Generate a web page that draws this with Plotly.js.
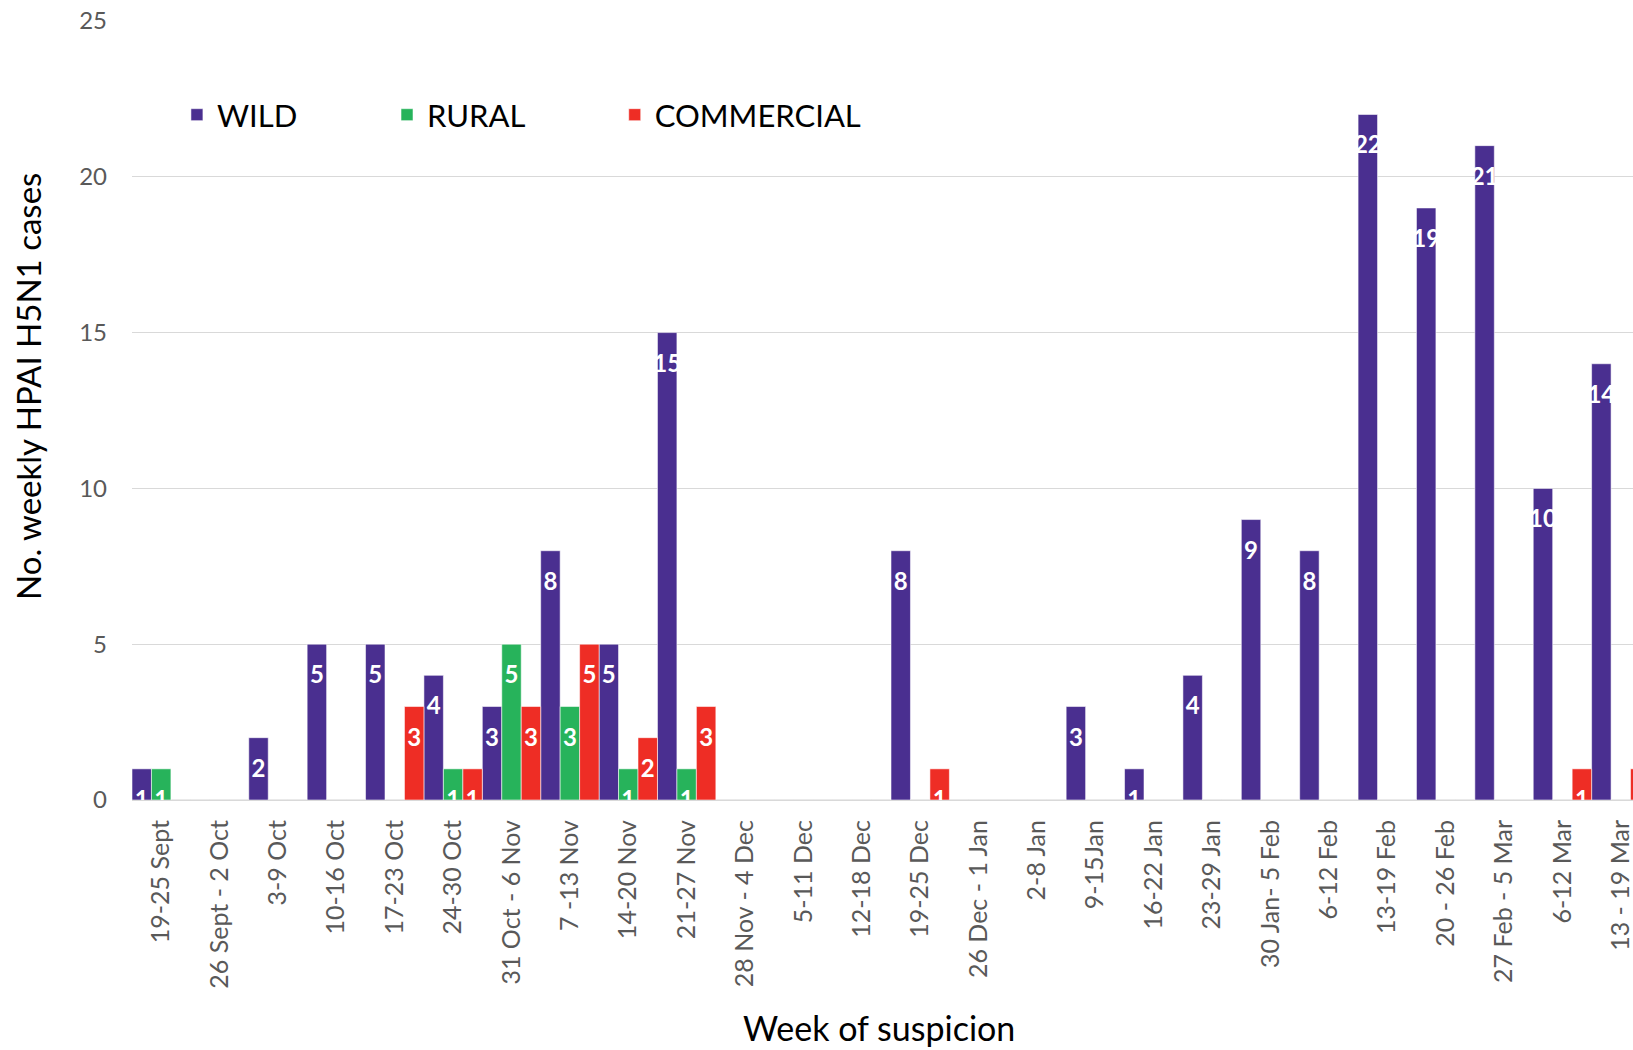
<!DOCTYPE html>
<html><head><meta charset="utf-8">
<script src="https://cdn.plot.ly/plotly-3.0.1.min.js"></script>
<style>html,body{margin:0;padding:0;overflow:hidden;background:#fff}</style>
</head><body>
<div id="chart" style="width:1660px;height:1050px"></div>
<script>
const weeks = ['19-25 Sept','26 Sept - 2 Oct','3-9 Oct','10-16 Oct','17-23 Oct','24-30 Oct',
  '31 Oct - 6 Nov','7 -13 Nov','14-20 Nov','21-27 Nov','28 Nov - 4 Dec','5-11 Dec','12-18 Dec',
  '19-25 Dec','26 Dec - 1 Jan','2-8 Jan','9-15Jan','16-22 Jan','23-29 Jan','30 Jan- 5 Feb',
  '6-12 Feb','13-19 Feb','20 - 26 Feb','27 Feb - 5 Mar','6-12 Mar','13 - 19 Mar'];
const wild       = [1,0,2,5,5,4,3,8,5,15,0,0,0,8,0,0,3,1,4,9,8,22,19,21,10,14];
const rural      = [1,0,0,0,0,1,5,3,1,1,0,0,0,0,0,0,0,0,0,0,0,0,0,0,0,0];
const commercial = [0,0,0,0,3,1,3,5,2,3,0,0,0,1,0,0,0,0,0,0,0,0,0,0,1,1];
const seriesNames = ['WILD','RURAL','COMMERCIAL'];
const seriesColors = ['#4a2f90','#27b35b','#ee2d25'];
const seriesValues = [wild, rural, commercial];
const legendIds = ['legend','legend2','legend3'];
const legendX = [0.0296, 0.168, 0.318];
const xTitle = 'Week of suspicion';
const yTitle = 'No. weekly HPAI H5N1 cases';

const traces = [];
seriesValues.forEach((vals, i) => {
  traces.push({
    type: 'bar', name: seriesNames[i], x: weeks, y: vals, legend: legendIds[i],
    marker: {color: seriesColors[i], line: {color: 'rgba(255,255,255,0.55)', width: 1}},
    hoverinfo: 'skip'
  });
});
seriesValues.forEach((vals, i) => {
  traces.push({
    type: 'scatter', mode: 'markers+text', x: weeks, y: vals, orientation: 'v',
    text: vals.map(v => v > 0 ? String(v) : ''),
    textposition: 'bottom center',
    textfont: {family: 'Lato', size: 24, color: '#ffffff', weight: 'bold'},
    marker: {size: 32, opacity: 0},
    cliponaxis: true, showlegend: false, hoverinfo: 'skip'
  });
});

const layout = {
  width: 1660, height: 1050,
  margin: {l: 132, r: 10, t: 21, b: 250},
  paper_bgcolor: '#ffffff', plot_bgcolor: '#ffffff',
  barmode: 'group', bargap: 0, bargroupgap: 0,
  scattermode: 'group', scattergap: 0,
  font: {family: 'Lato', color: '#595959'},
  showlegend: true,
  xaxis: {
    type: 'category', range: [-0.5, 25.5], tickangle: -90,
    tickfont: {family: 'Lato', size: 25, color: '#595959'},
    ticks: '', ticklabelstandoff: 14, showgrid: false,
    showline: false, zeroline: false, automargin: false
  },
  yaxis: {
    range: [0, 25], dtick: 5, tick0: 0,
    tickfont: {family: 'Lato', size: 24, color: '#595959'},
    ticks: '', ticklabelstandoff: 24,
    showgrid: true, gridcolor: '#d9d9d9', gridwidth: 1.3,
    zeroline: true, zerolinecolor: '#d9d9d9', zerolinewidth: 1.6,
    showline: false, automargin: false
  },
  annotations: [
    {text: yTitle, xref: 'paper', yref: 'paper', x: (28 - 132) / 1518, y: (800 - 387) / 779,
     xanchor: 'center', yanchor: 'middle', textangle: -90, showarrow: false,
     font: {family: 'Lato', size: 33, color: '#000000'}},
    {text: xTitle, xref: 'paper', yref: 'paper', x: (879 - 132) / 1518, y: (800 - 1027) / 779,
     xanchor: 'center', yanchor: 'middle', showarrow: false,
     font: {family: 'Lato', size: 34, color: '#000000'}}
  ]
};
legendIds.forEach((id, i) => {
  layout[id] = {
    orientation: 'h', x: legendX[i], y: 0.8793, xanchor: 'left', yanchor: 'middle',
    font: {family: 'Lato', size: 31, color: '#000000'},
    itemwidth: 30, bgcolor: 'rgba(0,0,0,0)', borderwidth: 0
  };
});

Plotly.newPlot('chart', traces, layout, {displayModeBar: false, staticPlot: true});
</script>
</body></html>
